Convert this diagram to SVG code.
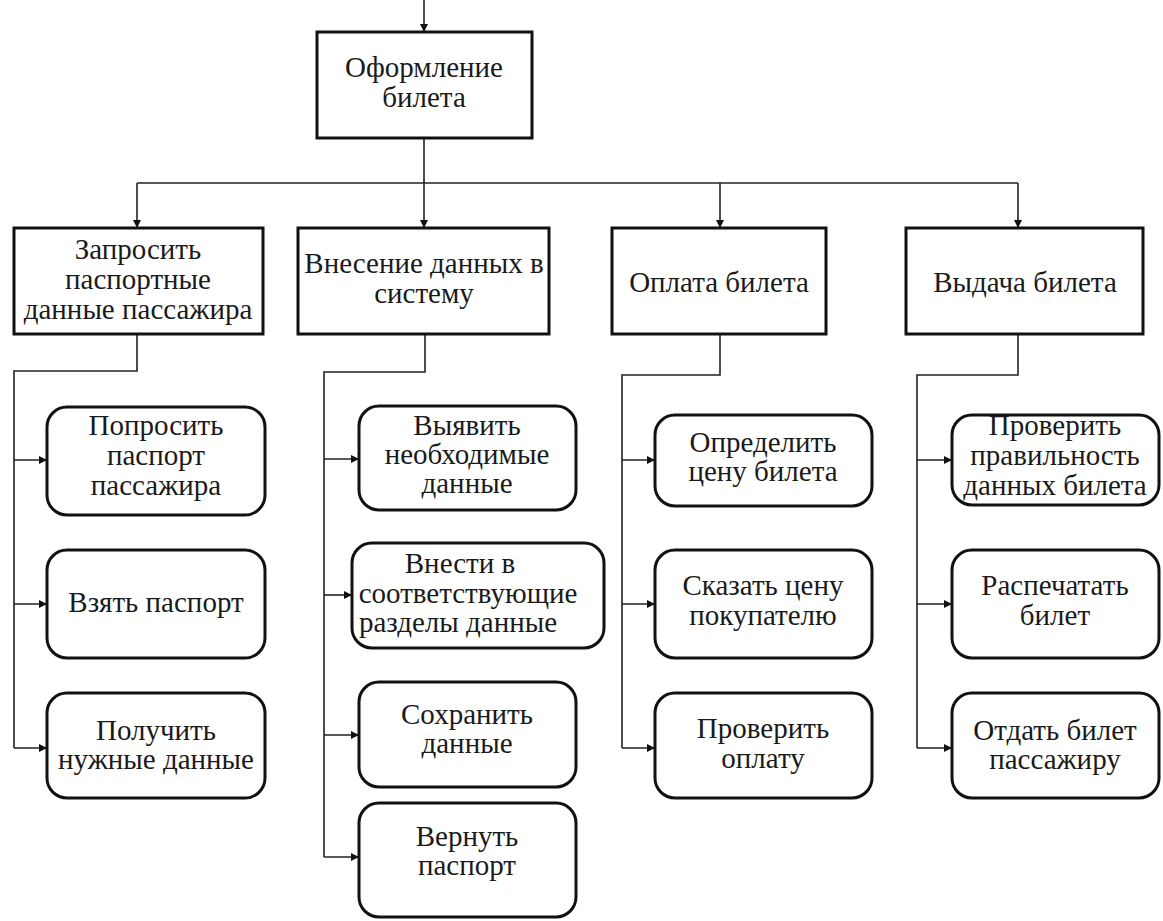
<svg xmlns="http://www.w3.org/2000/svg" width="1163" height="921" viewBox="0 0 1163 921" xml:lang="ru">
<style>
.box{fill:#fff;stroke:#111;stroke-width:3}
.c{fill:none;stroke:#222;stroke-width:1.6}
</style>
<defs>
<marker id="ar" viewBox="0 0 10 10" refX="10" refY="5" markerWidth="8" markerHeight="8" markerUnits="userSpaceOnUse" orient="auto">
<path d="M0,0 L10,5 L0,10 z" fill="#111"/>
</marker>
</defs>
<rect width="1163" height="921" fill="#fff"/>
<g id="connectors">
<path class="c" d="M424,0 V32" marker-end="url(#ar)"/>
<path class="c" d="M424,138 V228" marker-end="url(#ar)"/>
<path class="c" d="M137,183 H1018"/>
<path class="c" d="M137,183 V228" marker-end="url(#ar)"/>
<path class="c" d="M720,183 V228" marker-end="url(#ar)"/>
<path class="c" d="M1018,183 V228" marker-end="url(#ar)"/>
<path class="c" d="M137,334 V371 H14 V748"/>
<path class="c" d="M14,460 H47" marker-end="url(#ar)"/>
<path class="c" d="M14,604 H47" marker-end="url(#ar)"/>
<path class="c" d="M14,748 H47" marker-end="url(#ar)"/>
<path class="c" d="M425,334 V372 H324 V857"/>
<path class="c" d="M324,459 H359" marker-end="url(#ar)"/>
<path class="c" d="M324,595 H352" marker-end="url(#ar)"/>
<path class="c" d="M324,735 H359" marker-end="url(#ar)"/>
<path class="c" d="M324,857 H359" marker-end="url(#ar)"/>
<path class="c" d="M720,334 V375 H622 V748"/>
<path class="c" d="M622,460 H655" marker-end="url(#ar)"/>
<path class="c" d="M622,604 H655" marker-end="url(#ar)"/>
<path class="c" d="M622,748 H655" marker-end="url(#ar)"/>
<path class="c" d="M1018,334 V375 H917 V748"/>
<path class="c" d="M917,460 H952" marker-end="url(#ar)"/>
<path class="c" d="M917,604 H952" marker-end="url(#ar)"/>
<path class="c" d="M917,748 H952" marker-end="url(#ar)"/>
</g>
<g id="nodes" fill="#1a1a1a">
<g id="n-root"><rect class="box" x="317" y="32" width="215" height="106"/><text style="font-family:'Liberation Serif','Times New Roman',serif;font-size:29px;text-anchor:middle" x="424" y="77">Оформление</text><text style="font-family:'Liberation Serif','Times New Roman',serif;font-size:29px;text-anchor:middle" x="424" y="107">билета</text></g>
<g id="n-a"><rect class="box" x="14" y="228" width="249" height="106"/><text style="font-family:'Liberation Serif','Times New Roman',serif;font-size:29px;text-anchor:middle" x="138" y="259">Запросить</text><text style="font-family:'Liberation Serif','Times New Roman',serif;font-size:29px;text-anchor:middle" x="138" y="289">паспортные</text><text style="font-family:'Liberation Serif','Times New Roman',serif;font-size:29px;text-anchor:middle" x="138" y="319">данные пассажира</text></g>
<g id="n-b"><rect class="box" x="298" y="228" width="251" height="106"/><text style="font-family:'Liberation Serif','Times New Roman',serif;font-size:29px;text-anchor:middle" x="424" y="273">Внесение данных в</text><text style="font-family:'Liberation Serif','Times New Roman',serif;font-size:29px;text-anchor:middle" x="424" y="303">систему</text></g>
<g id="n-c"><rect class="box" x="612" y="228" width="214" height="106"/><text style="font-family:'Liberation Serif','Times New Roman',serif;font-size:29px;text-anchor:middle" x="719" y="292">Оплата билета</text></g>
<g id="n-d"><rect class="box" x="906" y="228" width="237" height="106"/><text style="font-family:'Liberation Serif','Times New Roman',serif;font-size:29px;text-anchor:middle" x="1025" y="292">Выдача билета</text></g>
<g id="n-a1"><rect class="box" x="47" y="407" width="218" height="108" rx="20"/><text style="font-family:'Liberation Serif','Times New Roman',serif;font-size:29px;text-anchor:middle" x="156" y="435">Попросить</text><text style="font-family:'Liberation Serif','Times New Roman',serif;font-size:29px;text-anchor:middle" x="156" y="465">паспорт</text><text style="font-family:'Liberation Serif','Times New Roman',serif;font-size:29px;text-anchor:middle" x="156" y="495">пассажира</text></g>
<g id="n-a2"><rect class="box" x="47" y="550" width="218" height="108" rx="20"/><text style="font-family:'Liberation Serif','Times New Roman',serif;font-size:29px;text-anchor:middle" x="156" y="612">Взять паспорт</text></g>
<g id="n-a3"><rect class="box" x="47" y="693" width="218" height="105" rx="20"/><text style="font-family:'Liberation Serif','Times New Roman',serif;font-size:29px;text-anchor:middle" x="156" y="740">Получить</text><text style="font-family:'Liberation Serif','Times New Roman',serif;font-size:29px;text-anchor:middle" x="156" y="769">нужные данные</text></g>
<g id="n-b1"><rect class="box" x="359" y="406" width="217" height="104" rx="20"/><text style="font-family:'Liberation Serif','Times New Roman',serif;font-size:29px;text-anchor:middle" x="467" y="435">Выявить</text><text style="font-family:'Liberation Serif','Times New Roman',serif;font-size:29px;text-anchor:middle" x="467" y="464">необходимые</text><text style="font-family:'Liberation Serif','Times New Roman',serif;font-size:29px;text-anchor:middle" x="467" y="493">данные</text></g>
<g id="n-b2"><rect class="box" x="352" y="543" width="252" height="105" rx="20"/><text style="font-family:'Liberation Serif','Times New Roman',serif;font-size:29px;text-anchor:middle" x="460" y="573">Внести в</text><text style="font-family:'Liberation Serif','Times New Roman',serif;font-size:29px;text-anchor:middle" x="468" y="603">соответствующие</text><text style="font-family:'Liberation Serif','Times New Roman',serif;font-size:29px;text-anchor:middle" x="458" y="632">разделы данные</text></g>
<g id="n-b3"><rect class="box" x="359" y="682" width="217" height="105" rx="20"/><text style="font-family:'Liberation Serif','Times New Roman',serif;font-size:29px;text-anchor:middle" x="467" y="724">Сохранить</text><text style="font-family:'Liberation Serif','Times New Roman',serif;font-size:29px;text-anchor:middle" x="467" y="753">данные</text></g>
<g id="n-b4"><rect class="box" x="359" y="803" width="217" height="114" rx="20"/><text style="font-family:'Liberation Serif','Times New Roman',serif;font-size:29px;text-anchor:middle" x="467" y="846">Вернуть</text><text style="font-family:'Liberation Serif','Times New Roman',serif;font-size:29px;text-anchor:middle" x="467" y="875">паспорт</text></g>
<g id="n-c1"><rect class="box" x="655" y="415" width="217" height="91" rx="20"/><text style="font-family:'Liberation Serif','Times New Roman',serif;font-size:29px;text-anchor:middle" x="763" y="452">Определить</text><text style="font-family:'Liberation Serif','Times New Roman',serif;font-size:29px;text-anchor:middle" x="763" y="481">цену билета</text></g>
<g id="n-c2"><rect class="box" x="655" y="550" width="217" height="108" rx="20"/><text style="font-family:'Liberation Serif','Times New Roman',serif;font-size:29px;text-anchor:middle" x="763" y="595">Сказать цену</text><text style="font-family:'Liberation Serif','Times New Roman',serif;font-size:29px;text-anchor:middle" x="763" y="625">покупателю</text></g>
<g id="n-c3"><rect class="box" x="655" y="693" width="217" height="105" rx="20"/><text style="font-family:'Liberation Serif','Times New Roman',serif;font-size:29px;text-anchor:middle" x="763" y="738">Проверить</text><text style="font-family:'Liberation Serif','Times New Roman',serif;font-size:29px;text-anchor:middle" x="763" y="768">оплату</text></g>
<g id="n-d1"><rect class="box" x="952" y="415" width="207" height="90" rx="20"/><text style="font-family:'Liberation Serif','Times New Roman',serif;font-size:29px;text-anchor:middle" x="1055" y="435">Проверить</text><text style="font-family:'Liberation Serif','Times New Roman',serif;font-size:29px;text-anchor:middle" x="1055" y="465">правильность</text><text style="font-family:'Liberation Serif','Times New Roman',serif;font-size:29px;text-anchor:middle" x="1055" y="495">данных билета</text></g>
<g id="n-d2"><rect class="box" x="952" y="550" width="207" height="108" rx="20"/><text style="font-family:'Liberation Serif','Times New Roman',serif;font-size:29px;text-anchor:middle" x="1055" y="595">Распечатать</text><text style="font-family:'Liberation Serif','Times New Roman',serif;font-size:29px;text-anchor:middle" x="1055" y="625">билет</text></g>
<g id="n-d3"><rect class="box" x="952" y="693" width="207" height="105" rx="20"/><text style="font-family:'Liberation Serif','Times New Roman',serif;font-size:29px;text-anchor:middle" x="1055" y="740">Отдать билет</text><text style="font-family:'Liberation Serif','Times New Roman',serif;font-size:29px;text-anchor:middle" x="1055" y="769">пассажиру</text></g>
</g>
</svg>
